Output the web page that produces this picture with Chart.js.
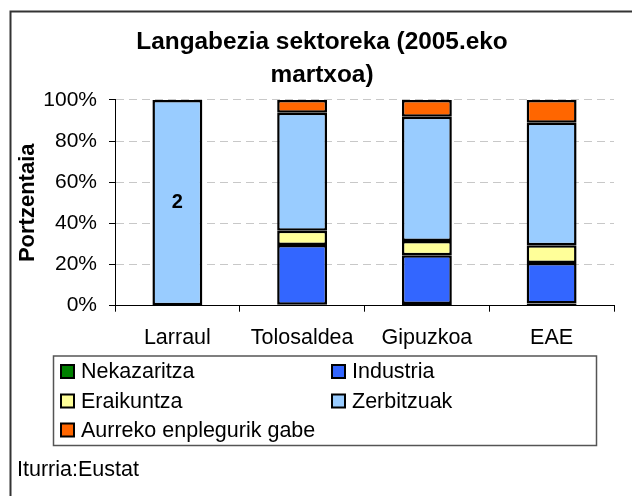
<!DOCTYPE html>
<html><head><meta charset="utf-8">
<script src="https://cdn.jsdelivr.net/npm/chart.js@4/dist/chart.umd.min.js"></script>
<style>html,body{margin:0;padding:0;background:#fff}canvas{display:block}</style>
</head><body>
<canvas id="c" width="632" height="496"></canvas>
<script>
const categories = ['Larraul', 'Tolosaldea', 'Gipuzkoa', 'EAE'];
const nekazaritza = [0, 0.5, 0.8, 1.1];
const industria = [0, 29.0, 23.7, 19.6];
const eraikuntza = [0, 6.9, 6.9, 8.7];
const zerbitzuak = [100, 57.4, 60.4, 59.5];
const aurrekoEnplegurikGabe = [0, 6.2, 8.2, 11.1];
const zerbitzuakLabels = ['2', '', '', ''];
const yTicks = [0, 20, 40, 60, 80, 100];
const seriesNames = ['Nekazaritza', 'Industria', 'Eraikuntza', 'Zerbitzuak', 'Aurreko enplegurik gabe'];
const titleLines = ['Langabezia sektoreka (2005.eko', 'martxoa)'];
const yAxisTitle = 'Portzentaia';
const sourceText = 'Iturria:Eustat';

const FONT = "'Liberation Sans', Arial, sans-serif";
const colors = ['#008000', '#3366FF', '#FFFF99', '#99CCFF', '#FF6600'];
const seriesValues = [nekazaritza, industria, eraikuntza, zerbitzuak, aurrekoEnplegurikGabe];

Chart.defaults.font.family = FONT;
Chart.defaults.color = '#000';

const decorPlugin = {
  id: 'decor',
  beforeDraw(chart) {
    const ctx = chart.ctx;
    ctx.save();
    ctx.fillStyle = '#fff';
    ctx.fillRect(0, 0, chart.width, chart.height);
    ctx.strokeStyle = '#333';
    ctx.lineWidth = 2;
    ctx.beginPath();
    ctx.moveTo(10.5, chart.height);
    ctx.lineTo(10.5, 11.5);
    ctx.lineTo(chart.width, 11.5);
    ctx.stroke();
    ctx.restore();
  },
  afterDatasetsDraw(chart) {
    const ctx = chart.ctx;
    const meta = chart.getDatasetMeta(3);
    ctx.save();
    ctx.font = 'bold 20px ' + FONT;
    ctx.fillStyle = '#000';
    ctx.textAlign = 'center';
    ctx.textBaseline = 'middle';
    meta.data.forEach((el, i) => {
      const t = zerbitzuakLabels[i];
      if (t) ctx.fillText(t, el.x, (el.y + el.base) / 2);
    });
    ctx.restore();
  },
  afterDraw(chart) {
    const ctx = chart.ctx;
    ctx.save();
    ctx.strokeStyle = '#555';
    ctx.lineWidth = 1.5;
    ctx.strokeRect(53.5, 356, 543, 89.5);
    ctx.font = '21.5px ' + FONT;
    ctx.textBaseline = 'middle';
    ctx.textAlign = 'left';
    const colX = [61, 332];
    const rowY = [371.5, 401, 430];
    chart.data.datasets.forEach((ds, i) => {
      const col = i % 2, row = Math.floor(i / 2);
      const x = colX[col], y = rowY[row];
      ctx.fillStyle = ds.backgroundColor;
      ctx.fillRect(x, y - 6.5, 13, 13);
      ctx.strokeStyle = '#000';
      ctx.lineWidth = 2;
      ctx.strokeRect(x, y - 6.5, 13, 13);
      ctx.fillStyle = '#000';
      ctx.fillText(ds.label, x + 20, y + 1);
    });
    ctx.fillText(sourceText, 17, 470);
    ctx.restore();
  }
};

new Chart(document.getElementById('c'), {
  type: 'bar',
  data: {
    labels: categories,
    datasets: seriesNames.map((name, i) => ({
      label: name,
      data: seriesValues[i],
      backgroundColor: colors[i],
      borderColor: '#000',
      borderWidth: 2.5,
      borderSkipped: false,
      barPercentage: 0.4,
      categoryPercentage: 1.0
    }))
  },
  options: {
    responsive: false,
    animation: false,
    devicePixelRatio: 1,
    layout: { padding: { left: 30, right: 18, top: 12, bottom: 132.5 } },
    plugins: {
      legend: { display: false },
      tooltip: { enabled: false },
      title: {
        display: true,
        text: titleLines,
        color: '#000',
        font: { size: 24.4, weight: 'bold', lineHeight: 1.35 },
        padding: { top: 13.5, bottom: 8.5 }
      }
    },
    scales: {
      x: {
        stacked: true,
        grid: { drawOnChartArea: false, drawTicks: true, tickLength: 6, tickColor: '#000', offset: true },
        border: { color: '#000', width: 1 },
        ticks: { font: { size: 21.5 }, color: '#000', padding: 13, maxRotation: 0 }
      },
      y: {
        stacked: true,
        min: 0,
        max: 100,
        afterBuildTicks(scale) { scale.ticks = yTicks.map(v => ({ value: v })); },
        afterFit(scale) { scale.width = 85; },
        grid: { color: '#c8c8c8', lineWidth: 1, drawTicks: true, tickLength: 6, tickColor: '#000', tickBorderDash: [] },
        border: { color: '#000', width: 1, dash: [8, 5] },
        ticks: { font: { size: 21 }, color: '#000', padding: 12, callback: v => v + '%' },
        title: {
          display: true,
          text: yAxisTitle,
          color: '#000',
          font: { size: 22, weight: 'bold' },
          padding: { top: -15.2, bottom: 0 }
        }
      }
    }
  },
  plugins: [decorPlugin]
});
</script>
</body></html>
